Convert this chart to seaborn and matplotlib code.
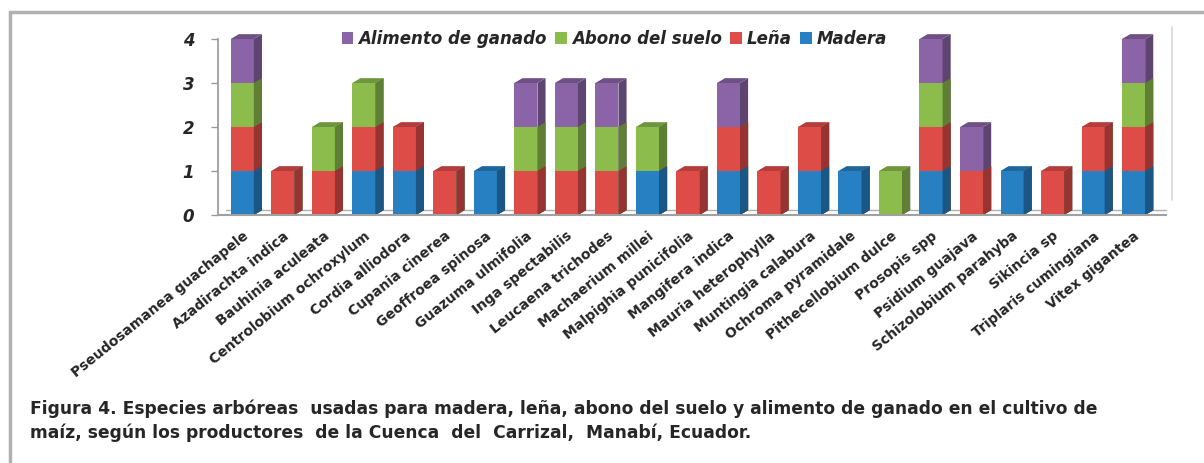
import numpy as np
import pandas as pd
import matplotlib
matplotlib.use("Agg")
import matplotlib.pyplot as plt
from matplotlib.patches import Polygon, Patch
from matplotlib.lines import Line2D
import matplotlib.colors as mcolors
import seaborn as sns

species = ["Pseudosamanea guachapele", "Azadirachta indica", "Bauhinia aculeata",
           "Centrolobium ochroxylum", "Cordia alliodora", "Cupania cinerea",
           "Geoffroea spinosa", "Guazuma ulmifolia", "Inga spectabilis",
           "Leucaena trichodes", "Machaerium millei", "Malpighia punicifolia",
           "Mangifera indica", "Mauria heterophylla", "Muntingia calabura",
           "Ochroma pyramidale", "Pithecellobium dulce", "Prosopis spp",
           "Psidium guajava", "Schizolobium parahyba", "Sikincia sp",
           "Triplaris cumingiana", "Vitex gigantea"]
madera   = [1, 0, 0, 1, 1, 0, 1, 0, 0, 0, 1, 0, 1, 0, 1, 1, 0, 1, 0, 1, 0, 1, 1]
lena     = [1, 1, 1, 1, 1, 1, 0, 1, 1, 1, 0, 1, 1, 1, 1, 0, 0, 1, 1, 0, 1, 1, 1]
abono    = [1, 0, 1, 1, 0, 0, 0, 1, 1, 1, 1, 0, 0, 0, 0, 0, 1, 1, 0, 0, 0, 0, 1]
alimento = [1, 0, 0, 0, 0, 0, 0, 1, 1, 1, 0, 0, 1, 0, 0, 0, 0, 1, 1, 0, 0, 0, 1]
series_names = ["Madera", "Leña", "Abono del suelo", "Alimento de ganado"]
yticks = [0, 1, 2, 3, 4]
caption = ("Figura 4. Especies arbóreas  usadas para madera, leña, abono del suelo y alimento de ganado en el cultivo de\n"
           "maíz, según los productores  de la Cuenca  del  Carrizal,  Manabí, Ecuador.")

colors = {"Madera": "#2680C2", "Leña": "#DE4C48",
          "Abono del suelo": "#8BBC4C", "Alimento de ganado": "#8A64A6"}

sns.set_theme(style="white")
plt.rcParams['font.family'] = ['DejaVu Sans']

fig = plt.figure(figsize=(12.04, 4.63), dpi=100)
W, H = 1204, 463
ax = fig.add_axes([218 / W, 1 - 215 / H, 948 / W, (215 - 39) / H])

vals = np.array([madera, lena, abono, alimento], dtype=float)
cum = np.cumsum(vals, axis=0)
df = pd.DataFrame({"species": species})

def darker(c, f=0.68):
    r, g, b = mcolors.to_rgb(c)
    return (r * f, g * f, b * f)

dx, dy = 0.2, 0.11
barw = 0.57
# draw cumulative layers from top (largest) to bottom
for i in range(3, -1, -1):
    name = series_names[i]
    df["h"] = cum[i]
    n0 = len(ax.patches)
    sns.barplot(data=df, x="species", y="h", color=colors[name], width=barw,
                saturation=1, ax=ax, linewidth=0, order=species)
    new = ax.patches[n0:]
    for p in new:
        x0, y0 = p.get_x(), p.get_y()
        w, h = p.get_width(), p.get_height()
        p.set_clip_on(False)
        if h <= 0:
            continue
        x1 = x0 + w
        side = Polygon([(x1, y0), (x1 + dx, y0 + dy), (x1 + dx, y0 + h + dy), (x1, y0 + h)],
                       closed=True, facecolor=darker(colors[name]), edgecolor="none",
                       clip_on=False)
        ax.add_patch(side)

# top faces
bar_patches = ax.patches[:len(species)]
for j, p in enumerate(bar_patches):
    top_idx = max(k for k in range(4) if vals[k, j] > 0)
    x0 = p.get_x(); w = p.get_width(); t = cum[3, j]
    top = Polygon([(x0, t), (x0 + w, t), (x0 + w + dx, t + dy), (x0 + dx, t + dy)],
                  closed=True, facecolor=darker(colors[series_names[top_idx]], 0.8),
                  edgecolor="none", clip_on=False, zorder=5)
    ax.add_patch(top)

ax.set_xlim(-0.6, 22.8)
ax.set_ylim(0, 4)
ax.set_yticks(yticks)
ax.set_yticklabels([str(v) for v in yticks], fontsize=12, fontweight="bold",
                   fontstyle="italic")
ax.set_xlabel("")
ax.set_ylabel("")
ax.set_xticks(range(len(species)))
ax.set_xticklabels(species, rotation=39, ha="right", rotation_mode="anchor",
                   fontsize=10, fontweight="bold")
ax.tick_params(axis="x", length=0, pad=10)
ax.tick_params(axis="y", length=5, width=1, color="#9a9a9a", left=True, pad=12)
for s in ["top", "right"]:
    ax.spines[s].set_visible(False)
ax.spines["left"].set_color("#9a9a9a")
ax.spines["bottom"].set_color("#a0a0a0")
ax.spines["bottom"].set_linewidth(1.5)
# floor back line
ax.plot([-0.6 + dx, 22.8], [dy, dy], color="#b0b0b0", lw=1, clip_on=False, zorder=0.5)

handles = [Patch(facecolor=colors[n], edgecolor="none") for n in
           ["Alimento de ganado", "Abono del suelo", "Leña", "Madera"]]
leg = ax.legend(handles, ["Alimento de ganado", "Abono del suelo", "Leña", "Madera"],
                loc="center", bbox_to_anchor=(0.418, 1.0), ncol=4, frameon=False,
                prop={"weight": "bold", "style": "italic", "size": 12},
                handlelength=0.7, handleheight=0.7, handletextpad=0.3,
                columnspacing=0.5)

# chart-area right border line
fig.add_artist(Line2D([1172 / W, 1172 / W], [1 - 27 / H, 1 - 200 / H],
                      color="#d8d8d8", lw=1.2))
# outer frame
fig.add_artist(Line2D([10 / W, 10 / W], [0, 1 - 12 / H], color="#b0b0b0", lw=2.5))
fig.add_artist(Line2D([10 / W, 1], [1 - 12 / H, 1 - 12 / H], color="#b0b0b0", lw=2.5))

fig.text(30 / W, 1 - 400 / H, caption, ha="left", va="top", fontsize=12.3,
         fontweight="bold", family="DejaVu Sans", linespacing=1.35)

fig.savefig("out.png", dpi=100)
